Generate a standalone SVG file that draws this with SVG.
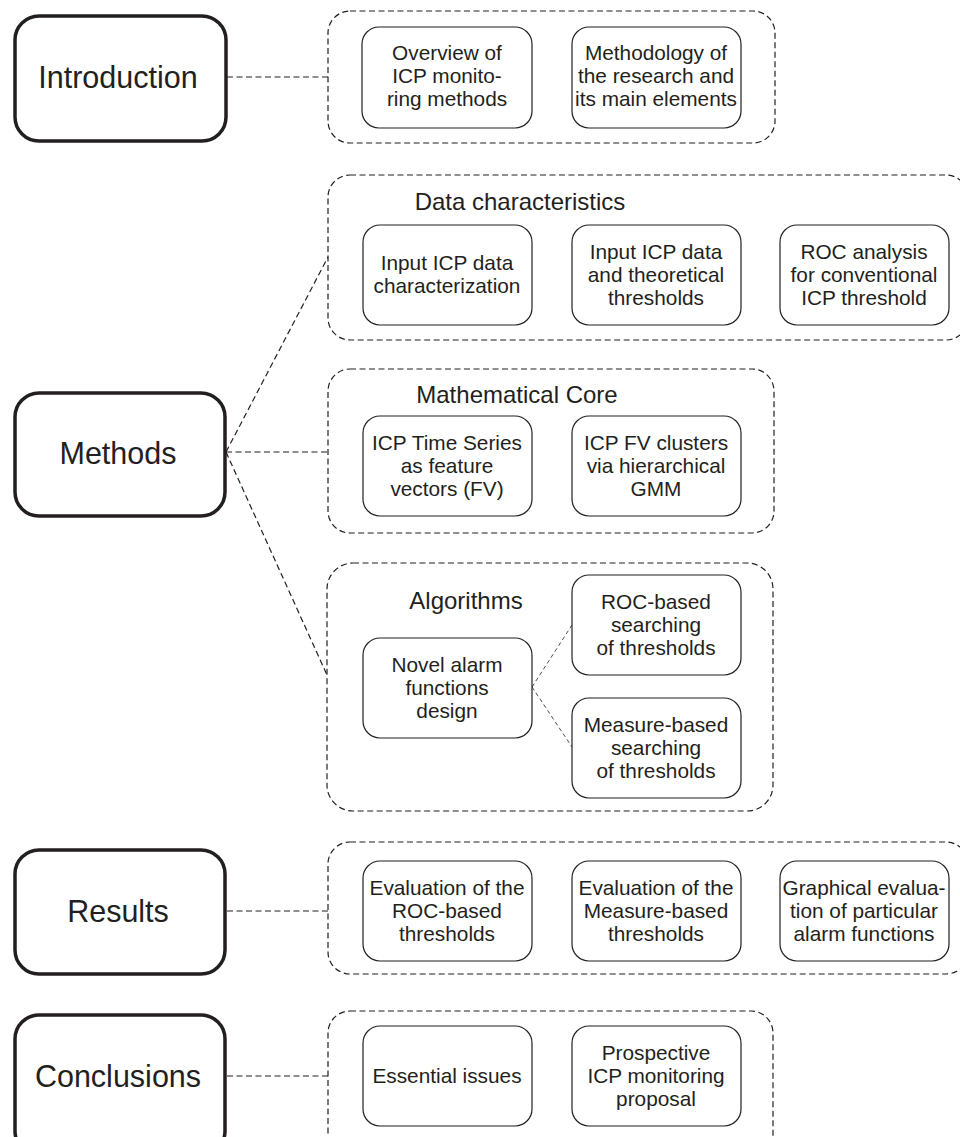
<svg xmlns="http://www.w3.org/2000/svg" width="960" height="1137" viewBox="0 0 960 1137">
<style>
.main{fill:#fff;stroke:#231f20;stroke-width:3.5}
.grp{fill:none;stroke:#231f20;stroke-width:1.2;stroke-dasharray:6 3.5}
.box{fill:#fff;stroke:#231f20;stroke-width:1.2}
.conn{fill:none;stroke:#231f20;stroke-width:1.2;stroke-dasharray:6 3.5}
.conn2{fill:none;stroke:#231f20;stroke-width:0.8;stroke-dasharray:4 3}
text{font-family:"Liberation Sans",Arial,sans-serif;fill:#231f20;text-anchor:middle}
.big{font-size:30.5px}
.ttl{font-size:24px}
.sm{font-size:20.8px}
</style>
<rect width="960" height="1137" fill="#fff"/>
<g id="connectors">
<line class="conn" x1="227" y1="77" x2="328" y2="77"/>
<line class="conn" x1="226" y1="452" x2="328" y2="257"/>
<line class="conn" x1="226" y1="452" x2="328" y2="452"/>
<line class="conn" x1="226" y1="452" x2="327" y2="675"/>
<line class="conn" x1="227" y1="911" x2="328" y2="911"/>
<line class="conn" x1="227" y1="1076" x2="328" y2="1076"/>
<line class="conn2" x1="532" y1="687" x2="572" y2="625"/>
<line class="conn2" x1="532" y1="687" x2="572" y2="747"/>
</g>
<g id="introduction">
<rect class="main" x="15" y="16" width="211" height="125" rx="24"/>
<text class="big" x="118" y="88">Introduction</text>
</g>
<g id="intro-group">
<rect class="grp" x="328" y="11" width="447" height="132" rx="22"/>
</g>
<g id="overview">
<rect class="box" x="362" y="27" width="170" height="101" rx="17"/>
<text class="sm" x="447" y="60">Overview of</text>
<text class="sm" x="447" y="83">ICP monito-</text>
<text class="sm" x="447" y="106">ring methods</text>
</g>
<g id="methodology">
<rect class="box" x="572" y="27" width="169" height="101" rx="17"/>
<text class="sm" x="656" y="60">Methodology of</text>
<text class="sm" x="656" y="83">the research and</text>
<text class="sm" x="656" y="106">its main elements</text>
</g>
<g id="methods">
<rect class="main" x="15" y="393" width="210" height="123" rx="24"/>
<text class="big" x="118" y="464">Methods</text>
</g>
<g id="data-group">
<rect class="grp" x="328" y="175" width="640" height="165" rx="22"/>
<text class="ttl" x="520" y="210">Data characteristics</text>
</g>
<g id="input-char">
<rect class="box" x="363" y="225" width="169" height="100" rx="17"/>
<text class="sm" x="447" y="270">Input ICP data</text>
<text class="sm" x="447" y="293">characterization</text>
</g>
<g id="input-theor">
<rect class="box" x="572" y="225" width="169" height="100" rx="17"/>
<text class="sm" x="656" y="259">Input ICP data</text>
<text class="sm" x="656" y="282">and theoretical</text>
<text class="sm" x="656" y="305">thresholds</text>
</g>
<g id="roc-analysis">
<rect class="box" x="780" y="225" width="169" height="100" rx="17"/>
<text class="sm" x="864" y="259">ROC analysis</text>
<text class="sm" x="864" y="282">for conventional</text>
<text class="sm" x="864" y="305">ICP threshold</text>
</g>
<g id="math-group">
<rect class="grp" x="328" y="369" width="446" height="164" rx="22"/>
<text class="ttl" x="517" y="403">Mathematical Core</text>
</g>
<g id="fv">
<rect class="box" x="363" y="416" width="169" height="100" rx="17"/>
<text class="sm" x="447" y="450">ICP Time Series</text>
<text class="sm" x="447" y="473">as feature</text>
<text class="sm" x="447" y="496">vectors (FV)</text>
</g>
<g id="gmm">
<rect class="box" x="572" y="416" width="169" height="100" rx="17"/>
<text class="sm" x="656" y="450">ICP FV clusters</text>
<text class="sm" x="656" y="473">via hierarchical</text>
<text class="sm" x="656" y="496">GMM</text>
</g>
<g id="alg-group">
<rect class="grp" x="327" y="563" width="446" height="248" rx="26"/>
<text class="ttl" x="466" y="609">Algorithms</text>
</g>
<g id="novel">
<rect class="box" x="363" y="638" width="169" height="100" rx="17"/>
<text class="sm" x="447" y="672">Novel alarm</text>
<text class="sm" x="447" y="695">functions</text>
<text class="sm" x="447" y="718">design</text>
</g>
<g id="roc-search">
<rect class="box" x="572" y="575" width="169" height="100" rx="17"/>
<text class="sm" x="656" y="609">ROC-based</text>
<text class="sm" x="656" y="632">searching</text>
<text class="sm" x="656" y="655">of thresholds</text>
</g>
<g id="measure-search">
<rect class="box" x="572" y="698" width="169" height="100" rx="17"/>
<text class="sm" x="656" y="732">Measure-based</text>
<text class="sm" x="656" y="755">searching</text>
<text class="sm" x="656" y="778">of thresholds</text>
</g>
<g id="results">
<rect class="main" x="15" y="850" width="210" height="124" rx="24"/>
<text class="big" x="118" y="922">Results</text>
</g>
<g id="results-group">
<rect class="grp" x="328" y="842" width="640" height="132" rx="22"/>
</g>
<g id="eval-roc">
<rect class="box" x="363" y="861" width="169" height="100" rx="17"/>
<text class="sm" x="447" y="895">Evaluation of the</text>
<text class="sm" x="447" y="918">ROC-based</text>
<text class="sm" x="447" y="941">thresholds</text>
</g>
<g id="eval-measure">
<rect class="box" x="572" y="861" width="169" height="100" rx="17"/>
<text class="sm" x="656" y="895">Evaluation of the</text>
<text class="sm" x="656" y="918">Measure-based</text>
<text class="sm" x="656" y="941">thresholds</text>
</g>
<g id="graphical">
<rect class="box" x="780" y="861" width="169" height="100" rx="17"/>
<text class="sm" x="864" y="895">Graphical evalua-</text>
<text class="sm" x="864" y="918">tion of particular</text>
<text class="sm" x="864" y="941">alarm functions</text>
</g>
<g id="conclusions">
<rect class="main" x="15" y="1015" width="210" height="140" rx="24"/>
<text class="big" x="118" y="1087">Conclusions</text>
</g>
<g id="concl-group">
<rect class="grp" x="328" y="1011" width="445" height="150" rx="22"/>
</g>
<g id="essential">
<rect class="box" x="363" y="1026" width="169" height="100" rx="17"/>
<text class="sm" x="447" y="1083">Essential issues</text>
</g>
<g id="prospective">
<rect class="box" x="572" y="1026" width="169" height="100" rx="17"/>
<text class="sm" x="656" y="1060">Prospective</text>
<text class="sm" x="656" y="1083">ICP monitoring</text>
<text class="sm" x="656" y="1106">proposal</text>
</g>
</svg>
